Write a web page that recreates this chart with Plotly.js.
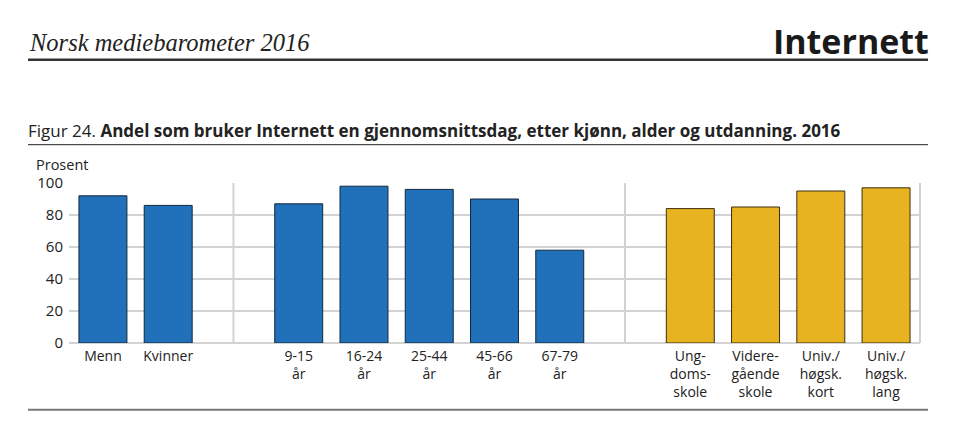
<!DOCTYPE html>
<html lang="no">
<head>
  <meta charset="UTF-8">
  <title>Internett - Norsk mediebarometer 2016</title>
  <script src="https://cdn.plot.ly/plotly-3.0.1.min.js"></script>
  <style>
    body { margin: 0; background: white; }
    #chart { width: 968px; height: 440px; }
  </style>
</head>
<body>
  <div id="chart"></div>
  <script>
    // categories (gap keys keep the empty space between groups)
    const categoryOrder = ['menn', 'kvinner', 'gap1', 'a9', 'a16', 'a25', 'a45', 'a67', 'gap2', 'ungdom', 'videre', 'kort', 'lang'];

    const groupKeys = ['menn', 'kvinner', 'a9', 'a16', 'a25', 'a45', 'a67'];
    const groupLabels = ['Menn', 'Kvinner', '9-15<br>år', '16-24<br>år', '25-44<br>år', '45-66<br>år', '67-79<br>år'];
    const groupValues = [92, 86, 87, 98, 96, 90, 58];

    const eduKeys = ['ungdom', 'videre', 'kort', 'lang'];
    const eduLabels = ['Ung-<br>doms-<br>skole', 'Videre-<br>gående<br>skole', 'Univ./<br>høgsk.<br>kort', 'Univ./<br>høgsk.<br>lang'];
    const eduValues = [84, 85, 95, 97];

    const separators = ['gap1', 'gap2'];

    const blue = '#2170ba';
    const yellow = '#e8b320';
    const gridColor = '#d3d3d3';
    const textColor = '#222222';
    const font = 'Open Sans, Noto Sans, sans-serif';

    const data = [
      {
        type: 'bar',
        x: groupKeys,
        y: groupValues,
        width: 0.735,
        marker: { color: blue, line: { color: '#13273d', width: 1 } },
        hoverinfo: 'y'
      },
      {
        type: 'bar',
        x: eduKeys,
        y: eduValues,
        width: 0.735,
        marker: { color: yellow, line: { color: '#3a2f10', width: 1 } },
        hoverinfo: 'y'
      }
    ];

    const shapes = separators.map(function (s) {
      return { type: 'line', xref: 'x', yref: 'y', x0: s, x1: s, y0: 0, y1: 100, layer: 'below',
               line: { color: gridColor, width: 2 } };
    });
    // right edge of frame
    shapes.push({ type: 'line', xref: 'paper', yref: 'y', x0: 1, x1: 1, y0: 0, y1: 100, layer: 'below',
                  line: { color: gridColor, width: 2 } });
    // header rule, title rule and bottom rule (paper coords)
    function px(xp) { return (xp - 69) / 851; }
    function py(yp) { return (343.3 - yp) / 160; }
    shapes.push({ type: 'line', xref: 'paper', yref: 'paper', x0: px(28), x1: px(928), y0: py(60), y1: py(60),
                  line: { color: '#333333', width: 2.5 } });
    shapes.push({ type: 'line', xref: 'paper', yref: 'paper', x0: px(28), x1: px(928), y0: py(145), y1: py(145),
                  line: { color: '#222222', width: 1 } });
    shapes.push({ type: 'line', xref: 'paper', yref: 'paper', x0: px(28), x1: px(928), y0: py(410), y1: py(410),
                  line: { color: '#777777', width: 2 } });

    const annotations = [
      { xref: 'paper', yref: 'paper', x: px(27), y: py(43), xanchor: 'left', yanchor: 'middle', showarrow: false,
        text: '<i>Norsk mediebarometer 2016</i>', font: { family: 'Liberation Serif, DejaVu Serif, serif', size: 24.5, color: textColor } },
      { xref: 'paper', yref: 'paper', x: px(931), y: py(41), xanchor: 'right', yanchor: 'middle', showarrow: false,
        text: '<b>Internett</b>', font: { family: 'Open Sans, sans-serif', size: 34, color: '#1a1a1a' } },
      { xref: 'paper', yref: 'paper', x: px(26), y: py(131), xanchor: 'left', yanchor: 'middle', showarrow: false,
        text: 'Figur 24. <b>Andel som bruker Internett en gjennomsnittsdag, etter kjønn, alder og utdanning. 2016</b>',
        font: { family: font, size: 17, color: textColor } },
      { xref: 'paper', yref: 'paper', x: px(34), y: py(165), xanchor: 'left', yanchor: 'middle', showarrow: false,
        text: 'Prosent', font: { family: font, size: 14.5, color: textColor } }
    ];

    const layout = {
      width: 968,
      height: 440,
      margin: { l: 69, r: 48, t: 183, b: 97 },
      paper_bgcolor: 'white',
      plot_bgcolor: 'white',
      showlegend: false,
      font: { family: font, color: textColor, size: 14 },
      xaxis: {
        type: 'category',
        categoryorder: 'array',
        categoryarray: categoryOrder,
        range: [-0.52, 12.52],
        tickvals: groupKeys.concat(eduKeys),
        ticktext: groupLabels.concat(eduLabels),
        showgrid: false,
        showline: false,
        ticks: '',
        ticklabelstandoff: 3,
        tickfont: { family: font, size: 14, color: textColor },
        fixedrange: true
      },
      yaxis: {
        range: [0, 100],
        tickvals: [0, 20, 40, 60, 80, 100],
        showgrid: true,
        gridcolor: gridColor,
        gridwidth: 2,
        zeroline: true,
        zerolinecolor: gridColor,
        zerolinewidth: 2,
        ticks: '',
        ticklabelstandoff: 5,
        tickfont: { family: font, size: 15, color: textColor },
        fixedrange: true
      },
      shapes: shapes,
      annotations: annotations
    };

    Plotly.newPlot('chart', data, layout, { displayModeBar: false, staticPlot: true });
  </script>
</body>
</html>
